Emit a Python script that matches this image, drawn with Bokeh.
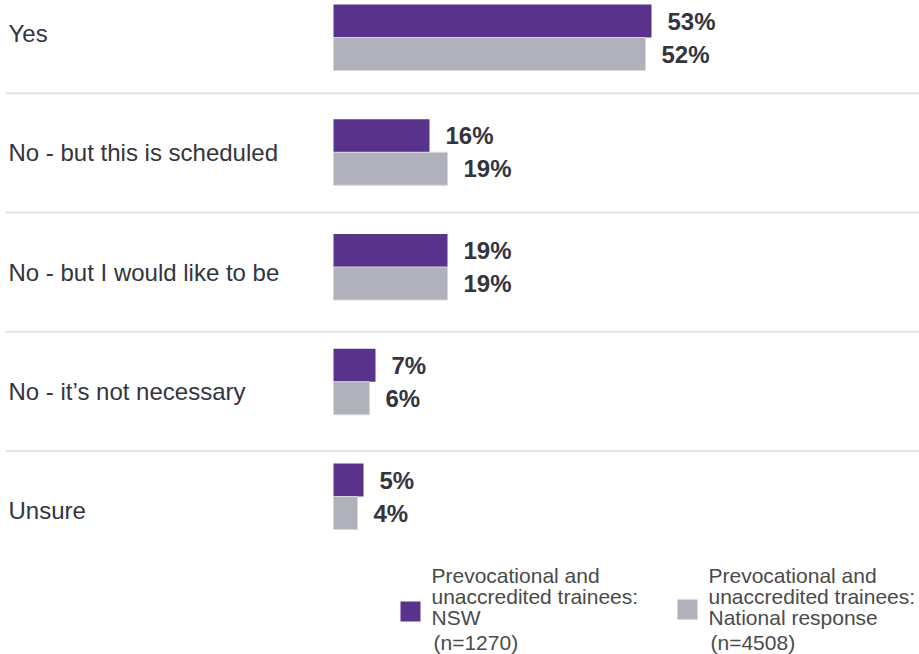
from bokeh.plotting import figure
from bokeh.models import Range1d, ColumnDataSource, Label, BoxAnnotation
from bokeh.core.properties import value
from bokeh.embed import file_html
from bokeh.resources import INLINE

# ---- data ----
categories = ["Yes", "No - but this is scheduled", "No - but I would like to be",
              "No - it\u2019s not necessary", "Unsure"]
nsw = [53, 16, 19, 7, 5]
national = [52, 19, 19, 6, 4]
legend_nsw_lines = ["Prevocational and", "unaccredited trainees:", "NSW"]
legend_nsw_n = "(n=1270)"
legend_nat_lines = ["Prevocational and", "unaccredited trainees:", "National response"]
legend_nat_n = "(n=4508)"

# ---- style / layout ----
PURPLE = "#59338b"
GREY = "#b1b1bc"
DARK = "#34343e"
LEG_TEXT = "#4a4a4a"
SEP = "#e2e2e2"
FONT = "Liberation Sans"

W, H = 919, 654
PX_PER_PCT = 6.0
BAR_X0 = 333          # pixel where 0% sits
BAR_PITCH = 114.75    # pixels between bar groups
BAR_C0 = 37           # pixel centre of first bar group
BAR_H = 33            # pixel height of each bar
ROW_PITCH = 119.3     # pixels between category rows
ROW_C0 = 33           # pixel centre of first row

x_start = -BAR_X0 / PX_PER_PCT
x_end = (W - BAR_X0) / PX_PER_PCT

p = figure(width=W, height=H, output_backend="svg", toolbar_location=None,
           x_range=Range1d(x_start, x_end),
           y_range=Range1d((H - BAR_C0) / BAR_PITCH, -BAR_C0 / BAR_PITCH),
           x_axis_location=None, y_axis_location=None,
           min_border=0, outline_line_color=None)
p.extra_y_ranges = {"rows": Range1d((H - ROW_C0) / ROW_PITCH, -ROW_C0 / ROW_PITCH)}
p.xgrid.visible = False
p.ygrid.visible = False
p.background_fill_color = "white"
p.border_fill_color = "white"

idx = list(range(len(categories)))
bh = BAR_H / BAR_PITCH
src = ColumnDataSource(dict(
    idx=idx,
    y_nsw=[i - bh / 2 for i in idx],
    y_nat=[i + bh / 2 for i in idx],
    nsw=nsw, national=national,
    nsw_lbl=[f"{v}%" for v in nsw],
    nat_lbl=[f"{v}%" for v in national],
    cat=categories,
    xs=[x_start] * len(categories),
))

# separators
sep_y = [i + 0.5 for i in idx[:-1]]
sep_x0 = x_start + 5 / PX_PER_PCT
p.segment(x0=[sep_x0] * len(sep_y), x1=[x_end] * len(sep_y), y0=sep_y, y1=sep_y,
          y_range_name="rows", line_color=SEP, line_width=2)

# bars
p.hbar(y="y_nsw", left=0, right="nsw", height=bh, source=src,
       fill_color=PURPLE, line_color=None)
p.hbar(y="y_nat", left=0, right="national", height=bh, source=src,
       fill_color=GREY, line_color="#d6d6de", line_width=1)

# value labels
p.text(x="nsw", y="y_nsw", text="nsw_lbl", source=src, x_offset=16,
       text_baseline="middle", text_align="left", text_font=value(FONT),
       text_font_size="24px", text_font_style="bold", text_color=DARK)
p.text(x="national", y="y_nat", text="nat_lbl", source=src, x_offset=16,
       text_baseline="middle", text_align="left", text_font=value(FONT),
       text_font_size="24px", text_font_style="bold", text_color=DARK)

# category labels
p.text(x="xs", y="idx", text="cat", source=src, y_range_name="rows", x_offset=8,
       text_baseline="middle", text_align="left", text_font=value(FONT),
       text_font_size="24px", text_color=DARK)

# legend (custom)
def legend_block(sq_left, sq_top, text_left, color, lines, ntext):
    p.add_layout(BoxAnnotation(left=sq_left, right=sq_left + 20,
                               bottom=H - (sq_top + 20), top=H - sq_top,
                               left_units="screen", right_units="screen",
                               bottom_units="screen", top_units="screen",
                               fill_color=color, fill_alpha=1.0, line_color=None))
    for line, base in zip(lines, [575, 596, 617]):
        p.add_layout(Label(x=text_left, y=H - base, x_units="screen", y_units="screen",
                           text=line, text_font=FONT, text_font_size="21px",
                           text_color=LEG_TEXT, text_baseline="alphabetic"))
    p.add_layout(Label(x=text_left + 2, y=H - 642, x_units="screen", y_units="screen",
                       text=ntext, text_font=FONT, text_font_size="21px",
                       text_color=LEG_TEXT, text_baseline="alphabetic"))

legend_block(400, 601, 431, PURPLE, legend_nsw_lines, legend_nsw_n)
legend_block(677, 599, 708, GREY, legend_nat_lines, legend_nat_n)

open("out.html", "w").write(file_html(p, INLINE))
